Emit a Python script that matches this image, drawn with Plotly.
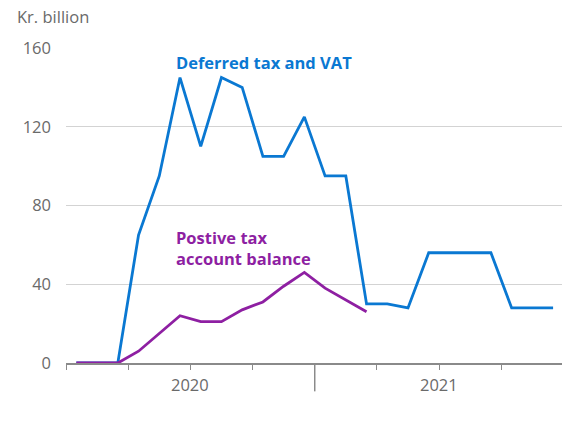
import plotly.graph_objects as go

# Monthly observations, Jan 2020 - Dec 2021 (month index 0..23)
months = list(range(24))
deferred_tax_vat = [0, 0, 0, 65, 95, 145, 110, 145, 140, 105, 105, 125,
                    95, 95, 30, 30, 28, 56, 56, 56, 56, 28, 28, 28]
positive_tax_balance = [0, 0, 0, 6, 15, 24, 21, 21, 27, 31, 39, 46,
                        38, 32, 26]
year_labels = ["2020", "2021"]
y_ticks = [0, 40, 80, 120, 160]

BLUE = "#0a78d2"
PURPLE = "#8e1fa2"
GREY_TXT = "#6a6a6a"
FONT = "Open Sans"

ML, MR, MT, MB = 66, 0, 48, 72
PLOT_W = 562 - ML - MR
PLOT_H = 435 - MT - MB

fig = go.Figure()
fig.add_trace(go.Scatter(
    x=months, y=deferred_tax_vat, mode="lines",
    line=dict(color=BLUE, width=2.8), cliponaxis=False, hoverinfo="skip"))
fig.add_trace(go.Scatter(
    x=months[:len(positive_tax_balance)], y=positive_tax_balance, mode="lines",
    line=dict(color=PURPLE, width=2.8), cliponaxis=False, hoverinfo="skip"))

# quarter tick marks along the time axis
quarter_edges = [-0.5 + 3 * i for i in range(8)]

fig.update_layout(
    width=562, height=435,
    margin=dict(l=ML, r=MR, t=MT, b=MB),
    paper_bgcolor="white", plot_bgcolor="white",
    showlegend=False,
    font=dict(family=FONT, size=16.5, color=GREY_TXT),
    xaxis=dict(
        range=[-0.5, 23.43], tickvals=quarter_edges,
        ticktext=[""] * len(quarter_edges),
        ticks="outside", ticklen=5, tickcolor="#8a8a8a", tickwidth=1,
        showline=True, linecolor="#8a8a8a", linewidth=1.5,
        showgrid=False, zeroline=False, fixedrange=True),
    yaxis=dict(
        range=[0, 160], tickvals=y_ticks,
        showgrid=True, gridcolor="#d3d3d3", gridwidth=1,
        zeroline=False, showline=False, ticks="",
        ticklabelstandoff=14, fixedrange=True,
        tickfont=dict(family=FONT, size=16.5, color=GREY_TXT)),
)

# divider between the two years
fig.add_shape(type="line", xref="x", yref="paper",
              x0=11.5, x1=11.5, y0=0, y1=-0.09,
              line=dict(color="#8a8a8a", width=1.5))

for label, xc in zip(year_labels, [5.5, 17.5]):
    fig.add_annotation(x=xc, xref="x", y=-0.067, yref="paper",
                       text=label, showarrow=False,
                       font=dict(family=FONT, size=16.5, color=GREY_TXT),
                       xanchor="center", yanchor="middle")

# unit label above the value axis
fig.add_annotation(x=(15 - ML) / PLOT_W, xref="paper",
                   y=(435 - MB - 17) / PLOT_H, yref="paper",
                   text="Kr. billion", showarrow=False,
                   xanchor="left", yanchor="middle",
                   font=dict(family=FONT, size=16.5, color=GREY_TXT))

fig.add_annotation(x=4.69, xref="x", y=152.7, yref="y",
                   text="<b>Deferred tax and VAT</b>", showarrow=False,
                   xanchor="left", yanchor="middle",
                   font=dict(family=FONT, size=16.5, color=BLUE))
fig.add_annotation(x=4.69, xref="x", y=58.6, yref="y",
                   text="<b>Postive tax<br>account balance</b>", showarrow=False,
                   xanchor="left", yanchor="middle", align="left",
                   font=dict(family=FONT, size=16.5, color=PURPLE))

fig.write_html("out.html")
